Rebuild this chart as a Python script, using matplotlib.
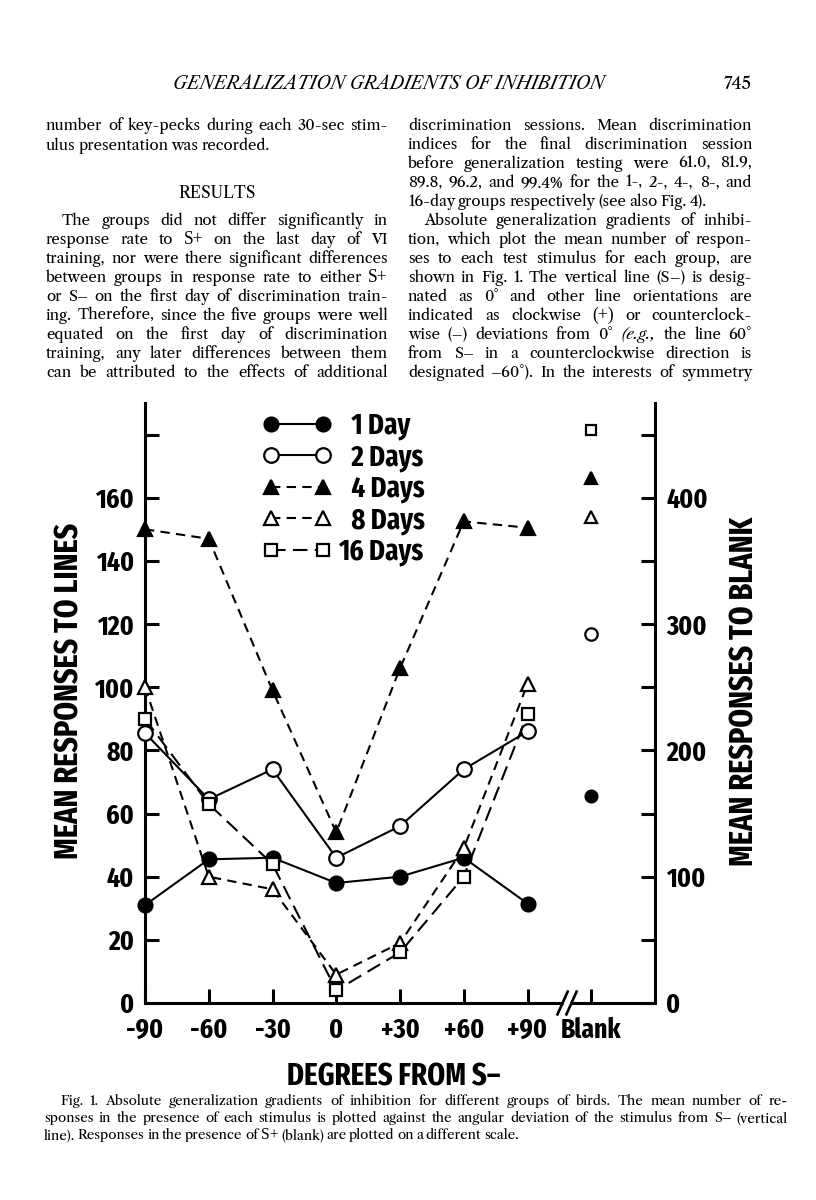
import matplotlib
matplotlib.use("Agg")
import matplotlib.pyplot as plt
from matplotlib.font_manager import FontProperties
import numpy as np

W, H = 816, 1200

# --- chart data ---
angles = ["-90", "-60", "-30", "0", "+30", "+60", "+90"]
blank_label = "Blank"
groups = ["\u20071 Day", "\u20072 Days", "\u20074 Days", "\u20078 Days", "16 Days"]
day1 = [31, 45.5, 46, 38, 40, 46, 31.5]
day2 = [85.5, 64.5, 74, 46, 56, 74, 86]
day4 = [150, 147, 99, 54, 106, 152.5, 150.5]
day8 = [100, 40, 36, 9, 19, 49, 101]
day16 = [90, 63, 44, 4, 16, 40, 91.5]
blank_resp = [164, 292, 416, 385, 454]   # 1, 2, 4, 8, 16 days, right-hand scale
left_ticks = [0, 20, 40, 60, 80, 100, 120, 140, 160, 180]
right_ticks = [0, 50, 100, 150, 200, 250, 300, 350, 400, 450]

# --- page text ---
header = "GENERALIZATION GRADIENTS OF INHIBITION"
page_no = "745"
left_col = [
    ("number of key-pecks during each 30-sec stim-", "j"),
    ("ulus presentation was recorded.", "l"),
    ("RESULTS", "c"),
    ("The groups did not differ significantly in", "ji"),
    ("response rate to S+ on the last day of VI", "j"),
    ("training, nor were there significant differences", "j"),
    ("between groups in response rate to either S+", "j"),
    ("or S\u2013 on the first day of discrimination train-", "j"),
    ("ing. Therefore, since the five groups were well", "j"),
    ("equated on the first day of discrimination", "j"),
    ("training, any later differences between them", "j"),
    ("can be attributed to the effects of additional", "j"),
]
left_y = [125, 145, 193, 220, 239, 258, 277, 296, 315, 334, 353, 372]
right_col = [
    ("discrimination sessions. Mean discrimination", "j"),
    ("indices for the final discrimination session", "j"),
    ("before generalization testing were 61.0, 81.9,", "j"),
    ("89.8, 96.2, and 99.4% for the 1-, 2-, 4-, 8-, and", "j"),
    ("16-day groups respectively (see also Fig. 4).", "l"),
    ("Absolute generalization gradients of inhibi-", "ji"),
    ("tion, which plot the mean number of respon-", "j"),
    ("ses to each test stimulus for each group, are", "j"),
    ("shown in Fig. 1. The vertical line (S\u2013) is desig-", "j"),
    ("nated as 0\u00b0 and other line orientations are", "j"),
    ("indicated as clockwise (+) or counterclock-", "j"),
    ("wise (\u2013) deviations from 0\u00b0 (e.g., the line 60\u00b0", "j"),
    ("from S\u2013 in a counterclockwise direction is", "j"),
    ("designated \u201360\u00b0). In the interests of symmetry", "j"),
]
right_y = [125, 144, 163, 182, 201, 220, 239, 258, 277, 296, 315, 334, 353, 372]
caption = [
    ("Fig. 1. Absolute generalization gradients of inhibition for different groups of birds. The mean number of re-", "ji"),
    ("sponses in the presence of each stimulus is plotted against the angular deviation of the stimulus from S\u2013 (vertical", "j"),
    ("line). Responses in the presence of S+ (blank) are plotted on a different scale.", "l"),
]
caption_y = [1101, 1118, 1135]

SERIF = ["Libre Caslon Text", "Liberation Serif", "DejaVu Serif"]
PLUS_SERIF = ["Liberation Serif", "DejaVu Serif"]
SANS = ["Fira Sans Extra Condensed", "Barlow Condensed", "Liberation Sans Narrow", "DejaVu Sans"]

fig = plt.figure(figsize=(W / 100, H / 100), dpi=100)
renderer = fig.canvas.get_renderer()


def put_line(text, mode, x0, x1, y, size):
    """draw one line of body text; 'j' = justified, 'i' = indented, 'c' = centred"""
    if "c" in mode:
        fig.text((x0 + x1) / 2 / W, 1 - y / H, text, ha="center", va="baseline",
                 fontsize=size, family=SERIF)
        return
    if "i" in mode:
        x0 += 16
    words = text.split(" ")
    arts = []
    for w in words:
        style = "italic" if w.startswith("(e.g.") else "normal"
        # Caslon's plus sign is tiny, the printed one is not
        if "+" in w:
            arts.append(fig.text(0, 1 - y / H, w, ha="left", va="baseline", fontsize=size * 1.17,
                                 family=PLUS_SERIF, style=style))
        else:
            arts.append(fig.text(0, 1 - y / H, w, ha="left", va="baseline", fontsize=size,
                                 family=SERIF, style=style))
    widths = [a.get_window_extent(renderer).width for a in arts]
    gap = size * 0.27
    if "j" in mode and len(words) > 1:
        gap = (x1 - x0 - sum(widths)) / (len(words) - 1)
    x = x0
    for a, w in zip(arts, widths):
        a.set_x(x / W)
        x += w + gap


fig.text(389 / W, 1 - 89 / H, header, ha="center", va="baseline", fontsize=12.9,
         style="italic", family=SERIF)
fig.text(752 / W, 1 - 89 / H, page_no, ha="right", va="baseline", fontsize=12.5, family=SERIF)
for (t, m), y in zip(left_col, left_y):
    put_line(t, m, 46, 388, y + 5, 11.6 if m == "c" else 10.8)
for (t, m), y in zip(right_col, right_y):
    put_line(t, m, 408, 752, y + 5, 10.8)
for (t, m), y in zip(caption, caption_y):
    put_line(t, m, 44, 788, y + 4, 9.6)

# --- chart ---
ax = fig.add_axes([145 / W, 1 - 1003 / H, 510 / W, 600 / H])
ax2 = ax.twinx()
pos = np.arange(len(angles))

series = [day1, day2, day4, day8, day16]
markers = ["o", "o", "^", "^", "s"]
faces = ["black", "white", "black", "white", "white"]
dashes = ["-", "-", (0, (4.5, 3)), (0, (4.5, 3)), (0, (7, 3.5))]
sizes = [10, 10.5, 10, 10, 8.5]
handles = []
for vals, mk, fc, ls, ms in zip(series, markers, faces, dashes, sizes):
    ln, = ax.plot(pos, vals, color="black", lw=1.5, ls=ls, marker=mk, ms=ms,
                  mfc=fc, mec="black", mew=1.6, clip_on=False, zorder=3)
    handles.append(ln)

blank_x = len(angles)
for v, mk, fc, ms in zip(blank_resp, markers, faces, sizes):
    ax2.plot([blank_x], [v], ls="none", marker=mk, ms=ms * 0.85, mfc=fc, mec="black",
             mew=1.6, clip_on=False)

ax.set_xlim(0, 8)
ax.set_ylim(0, 190)
ax2.set_ylim(0, 475)
ax.set_xticks(np.arange(len(angles) + 1))
ax.set_xticklabels(angles + [blank_label])
ax.set_yticks(left_ticks)
ax.set_yticklabels([str(v) if v <= 160 else "" for v in left_ticks])
ax2.set_yticks(right_ticks)
ax2.set_yticklabels([str(v) if v % 100 == 0 and v <= 400 else "" for v in right_ticks])

tick_font = FontProperties(family=SANS, weight="bold", size=20)
for lab in ax.get_xticklabels() + ax.get_yticklabels() + ax2.get_yticklabels():
    lab.set_fontproperties(tick_font)
ax.tick_params(axis="both", direction="in", length=10, width=2.2, pad=8)
ax.tick_params(axis="x", pad=10)
ax2.tick_params(axis="y", direction="in", length=10, width=2.2, pad=8)

for a in (ax, ax2):
    a.spines["top"].set_visible(False)
    for s in a.spines.values():
        s.set_linewidth(2.2)
ax.spines["right"].set_visible(False)
ax2.spines["left"].set_visible(False)
ax2.spines["bottom"].set_visible(False)
ax.spines["bottom"].set_bounds(0, 6.55)
ax.spines["bottom"].set_capstyle("butt")

# broken axis between +90 and Blank
ax.plot([6.67, 8], [0, 0], color="black", lw=2.2, clip_on=False, solid_capstyle="butt")
for x in (6.55, 6.69):
    ax.plot([x - 0.08, x + 0.08], [-3.6, 3.6], color="black", lw=1.9, clip_on=False)

lab_font = dict(family=SANS, weight="bold")
ax.set_ylabel("MEAN RESPONSES TO LINES", fontsize=23.5, va="center", **lab_font)
ax.yaxis.set_label_coords((70 - 145) / 510, (1003 - 691) / 600)
ax2.set_ylabel("MEAN RESPONSES TO BLANK", fontsize=23.5, va="center", rotation=90, **lab_font)
ax2.yaxis.set_label_coords((745 - 145) / 510, (1003 - 691) / 600)
ax.set_xlabel("DEGREES FROM S\u2013", fontsize=22.5, va="center", **lab_font)
ax.xaxis.set_label_coords((394 - 145) / 510, (1003 - 1077) / 600)

ax.legend(handles, groups, numpoints=2, frameon=False, handlelength=2.4, handletextpad=0.19,
          labelspacing=0.11, borderpad=0, borderaxespad=0, loc="upper left",
          bbox_to_anchor=(262 / W, 1 - 412 / H), bbox_transform=fig.transFigure,
          prop=dict(family=SANS, weight="bold", size=21))

fig.savefig("out.png", dpi=100, facecolor="white")
